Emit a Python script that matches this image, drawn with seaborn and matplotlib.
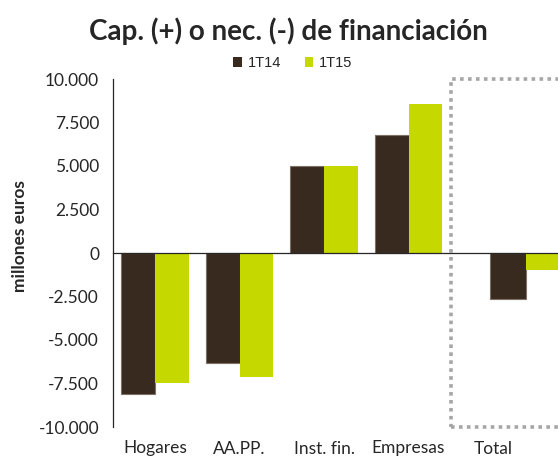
import pandas as pd
import seaborn as sns
import matplotlib.pyplot as plt
from matplotlib.patches import Rectangle, Patch
from matplotlib.ticker import FuncFormatter, FixedLocator

categories = ["Hogares", "AA.PP.", "Inst. fin.", "Empresas", "Total"]
series = ["1T14", "1T15"]
values_1t14 = [-8120, -6340, 5000, 6780, -2640]
values_1t15 = [-7450, -7150, 5000, 8560, -980]
y_ticks = [-10000, -7500, -5000, -2500, 0, 2500, 5000, 7500, 10000]

colors = ["#382a1e", "#c5d800"]

df = pd.DataFrame({
    "cat": categories * 2,
    "serie": [series[0]] * 5 + [series[1]] * 5,
    "valor": values_1t14 + values_1t15,
})

sns.set_style("white")
plt.rcParams["font.family"] = ["Lato", "DejaVu Sans"]

fig = plt.figure(figsize=(5.58, 4.58), dpi=100)
ax = fig.add_axes([113 / 558, 1 - 427 / 458, 1 - 113 / 558, 348 / 458])

sns.barplot(data=df, x="cat", y="valor", hue="serie", order=categories,
            hue_order=series, palette=colors, width=0.8, ax=ax,
            saturation=1, linewidth=0, legend=False)

# dark bars get the thin lighter outline
for bar in ax.containers[0]:
    bar.set_edgecolor("#7d7065")
    bar.set_linewidth(0.8)

# Total bars sit further right in the original
for cont in ax.containers:
    bar = cont[4]
    bar.set_x(bar.get_x() + 0.365)
ax.containers[0][4].set_width(0.425)
ax.containers[1][4].set_x(ax.containers[0][4].get_x() + 0.425)
ax.containers[1][4].set_width(0.425)

ax.set_xlim(-0.5, 4.77)
ax.set_ylim(-10000, 10000)
ax.set_yticks(y_ticks)
ax.yaxis.set_major_formatter(FuncFormatter(lambda v, p: f"{v:,.0f}".replace(",", ".")))
ax.tick_params(axis="y", direction="out", length=4, width=0.9, color="black",
               labelsize=12.5, pad=6)

# x axis drawn at zero, labels at the bottom
ax.spines["bottom"].set_position(("data", 0))
ax.spines["bottom"].set_linewidth(0.9)
ax.spines["left"].set_linewidth(0.9)
ax.spines["top"].set_visible(False)
ax.spines["right"].set_visible(False)
ax.xaxis.set_minor_locator(FixedLocator([0.5, 1.5, 2.5, 3.5]))
ax.tick_params(axis="x", which="minor", direction="out", length=4.5, width=0.9)
ax.tick_params(axis="x", which="major", length=0, labelsize=12.5, pad=135)
ax.set_xlabel("")
ax.set_ylabel("millones euros", fontsize=12.5, fontweight="bold")
ax.yaxis.set_label_coords(-0.19, 0.55)

# dotted box around Total
ax.add_patch(Rectangle((3.5, -10000), 3, 20000, fill=False, edgecolor="#a6a6a6",
                       linewidth=2.6, linestyle=(0, (1, 1.2)), clip_on=False, zorder=0))

fig.text(0.517, 0.932, "Cap. (+) o nec. (-) de financiación", ha="center",
         va="center", fontsize=20, fontweight="bold")

handles = [Patch(facecolor=c, edgecolor="none") for c in colors]
fig.legend(handles, series, loc="center", bbox_to_anchor=(0.525, 0.862), ncol=2,
           frameon=False, handlelength=0.6, handleheight=0.6, handletextpad=0.4,
           columnspacing=1.6, prop={"family": "Liberation Sans", "size": 10.5})

fig.savefig("out.png", dpi=100)
